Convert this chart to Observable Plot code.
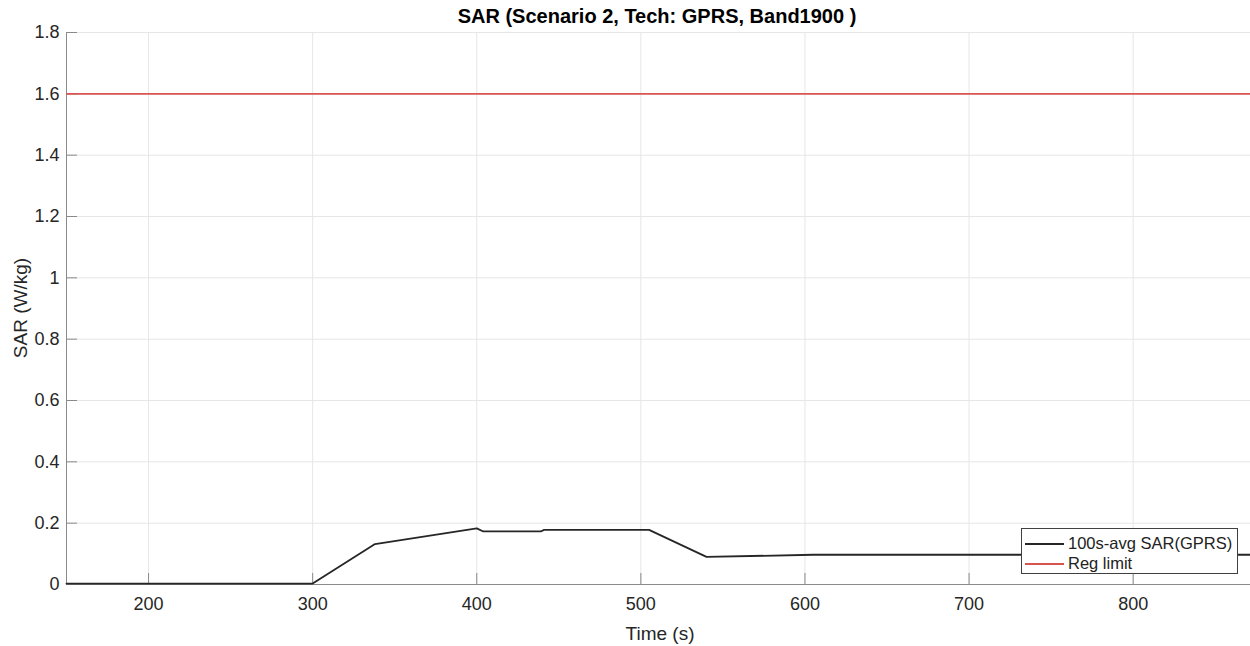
<!DOCTYPE html>
<html>
<head>
<meta charset="utf-8">
<script src="https://cdn.jsdelivr.net/npm/d3@7"></script>
<script src="https://cdn.jsdelivr.net/npm/@observablehq/plot@0.6"></script>
<style>
  html, body { margin: 0; padding: 0; background: #fff; }
  body { width: 1250px; height: 646px; overflow: hidden; font-family: "Liberation Sans", Arial, sans-serif; position: relative; }
  #title { height: 28px; line-height: 32px; text-align: center; font-weight: bold; font-size: 20px; color: #000; padding-left: 64px; overflow: visible; white-space: nowrap; }
  #chart svg { overflow: visible; display: block; }
  #legend { position: absolute; left: 1021px; top: 528px; width: 217px; height: 46px; border: 1px solid #404040; background: #fff; font-size: 16.5px; color: #222; box-sizing: border-box; }
  #legend .row { position: absolute; left: 0; height: 20px; line-height: 20px; width: 100%; }
  #legend .sw { position: absolute; left: 3px; top: 10px; width: 39px; height: 0; border-top: 2px solid; }
  #legend .lb { position: absolute; left: 46px; top: 0; white-space: nowrap; }
</style>
</head>
<body>
<div id="title">SAR (Scenario 2, Tech: GPRS, Band1900 )</div>
<div id="chart"></div>
<div id="legend">
  <div class="row" style="top:4px"><span class="sw" style="border-color:#262626"></span><span class="lb">100s-avg SAR(GPRS)</span></div>
  <div class="row" style="top:24px"><span class="sw" style="border-color:#d9534f"></span><span class="lb">Reg limit</span></div>
</div>
<script>
const time = [150, 300, 338, 400, 404, 439, 441, 505, 540, 605, 872];
const sar  = [0.003, 0.003, 0.132, 0.183, 0.173, 0.173, 0.178, 0.178, 0.090, 0.097, 0.097];
const regLimit = 1.6;
const xTicks = [200, 300, 400, 500, 600, 700, 800];
const yTicks = [0, 0.2, 0.4, 0.6, 0.8, 1, 1.2, 1.4, 1.6, 1.8];
const yTickLabels = ["0", "0.2", "0.4", "0.6", "0.8", "1", "1.2", "1.4", "1.6", "1.8"];

const data = time.map((t, i) => ({t, v: sar[i]}));

const W = 1250, H = 618, ML = 66, MR = 0, MT = 4, MB = 62;
const chart = Plot.plot({
  width: W,
  height: H,
  marginLeft: ML,
  marginRight: MR,
  marginTop: MT,
  marginBottom: MB,
  style: {fontFamily: "'Liberation Sans', Arial, sans-serif", fontSize: "18px", color: "#262626", background: "#fff", overflow: "visible"},
  x: {domain: [150, 871.5], label: null},
  y: {domain: [0, 1.8], label: null},
  marks: [
    Plot.gridX(xTicks, {stroke: "#e6e6e6", strokeOpacity: 1}),
    Plot.gridY(yTicks, {stroke: "#e6e6e6", strokeOpacity: 1}),
    Plot.ruleX([150], {stroke: "#8a8a8a"}),
    Plot.ruleY([0], {stroke: "#8a8a8a"}),
    // inward ticks
    Plot.tickX(xTicks, {x: d => d, stroke: "#8a8a8a", insetTop: (H - MT - MB) - 11}),
    Plot.tickY(yTicks, {y: d => d, stroke: "#8a8a8a", insetRight: (W - ML - MR) - 11}),
    Plot.axisX(xTicks, {tickSize: 0, tickPadding: 13, fontSize: 18, fill: "#262626"}),
    Plot.axisY(yTicks, {tickSize: 0, tickPadding: 7, fontSize: 18, fill: "#262626", tickFormat: (d, i) => yTickLabels[i]}),
    Plot.ruleY([regLimit], {stroke: "#d9534f", strokeWidth: 1.6}),
    Plot.line(data, {x: "t", y: "v", stroke: "#262626", strokeWidth: 1.8})
  ]
});
document.getElementById("chart").appendChild(chart);

const svg = d3.select(chart);
svg.append("text").attr("x", 660).attr("y", 612).attr("text-anchor", "middle")
  .attr("font-size", 19).attr("fill", "#262626").text("Time (s)");
svg.append("text").attr("transform", "translate(27,280) rotate(-90)").attr("text-anchor", "middle")
  .attr("font-size", 19).attr("fill", "#262626").text("SAR (W/kg)");
</script>
</body>
</html>
